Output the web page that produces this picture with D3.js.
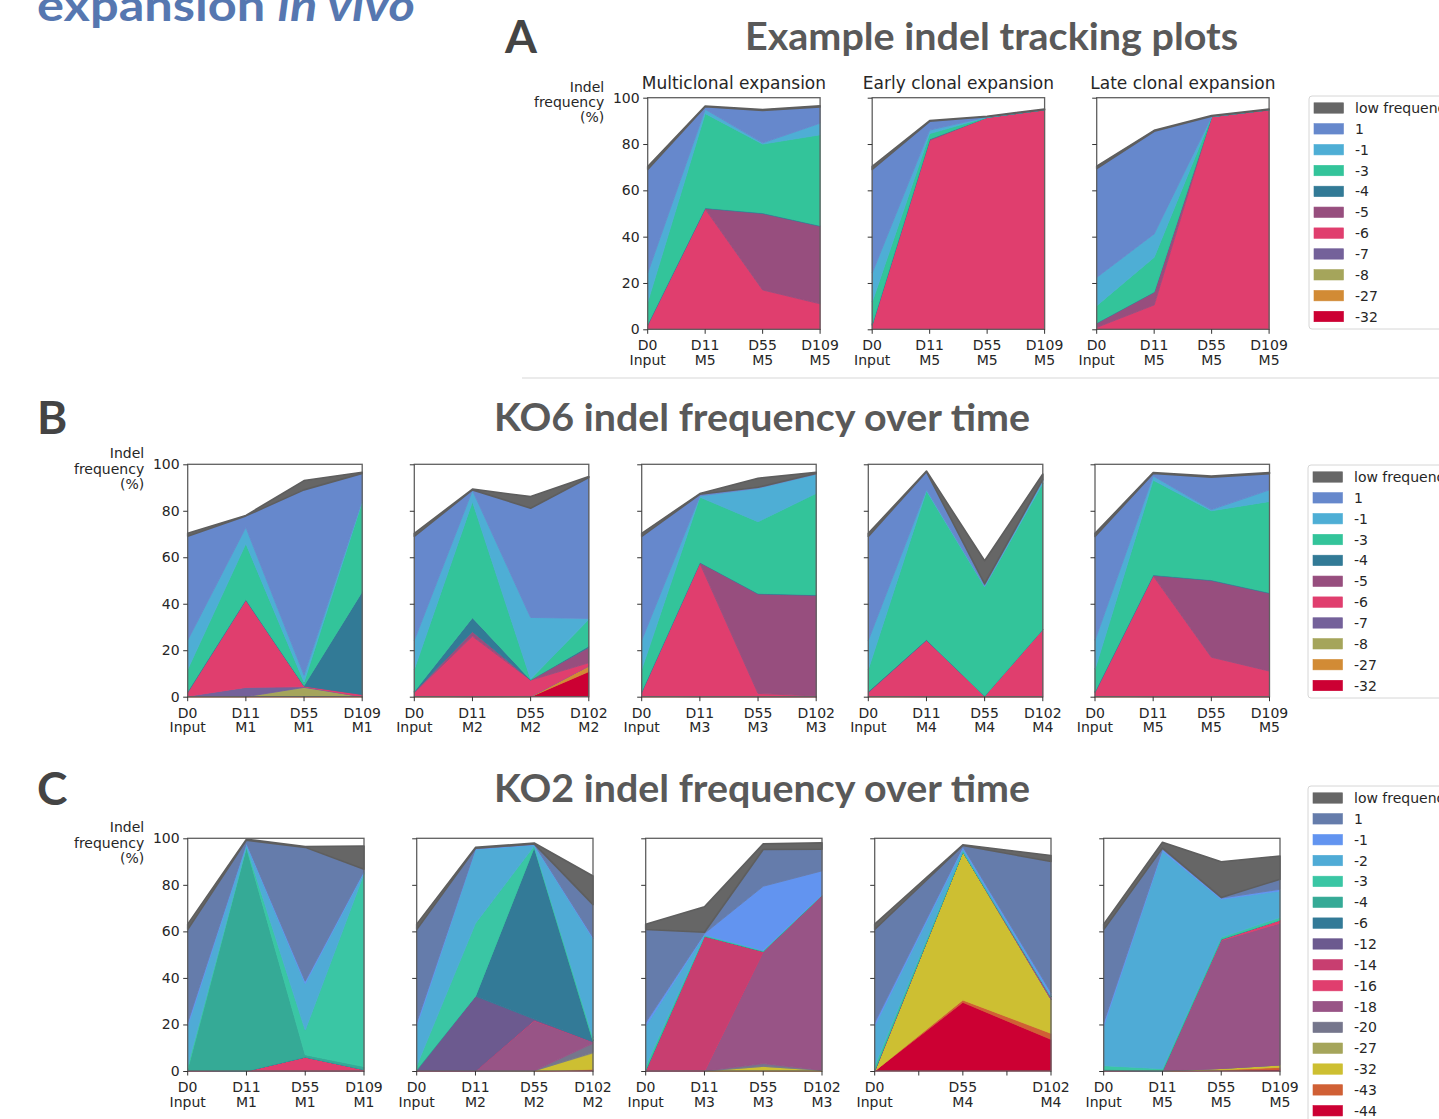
<!DOCTYPE html>
<html>
<head>
<meta charset="utf-8">
<script src="https://cdn.jsdelivr.net/npm/d3@7"></script>
<style>
  body { margin: 0; background: #fff; overflow: hidden; }
  svg { display: block; }
</style>
</head>
<body>
<svg id="fig" width="1439" height="1119"></svg>
<script>
// ---------- series (legend order, top of stack first) ----------
const ko6Keys = ["low frequency", "1", "-1", "-3", "-4", "-5", "-6", "-7", "-8", "-27", "-32"];
const ko6Colors = ["#666666", "#6688cc", "#4eaed5", "#33c49a", "#327a96", "#974e7e", "#e03e6e", "#74619a", "#a5a55b", "#d28b35", "#cc0033"];

const ko2Keys = ["low frequency", "1", "-1", "-2", "-3", "-4", "-6", "-12", "-14", "-16", "-18", "-20", "-27", "-32", "-43", "-44"];
const ko2Colors = ["#666666", "#657cab", "#6294f0", "#4fabd6", "#3ac6a4", "#35aa96", "#337a97", "#6c5a8f", "#c83e70", "#e03e6e", "#985486", "#75768c", "#a5a55b", "#cdbf32", "#d06035", "#cc0033"];

// ---------- time point labels ----------
const daysM1_109 = [["D0", "Input"], ["D11", "M1"], ["D55", "M1"], ["D109", "M1"]];
const daysM2_102 = [["D0", "Input"], ["D11", "M2"], ["D55", "M2"], ["D102", "M2"]];
const daysM3_102 = [["D0", "Input"], ["D11", "M3"], ["D55", "M3"], ["D102", "M3"]];
const daysM4_102 = [["D0", "Input"], ["D11", "M4"], ["D55", "M4"], ["D102", "M4"]];
const daysM5_109 = [["D0", "Input"], ["D11", "M5"], ["D55", "M5"], ["D109", "M5"]];
const daysM4_noD11 = [["D0", "Input"], ["D55", "M4"], ["D102", "M4"]];
const yTicks = [0, 20, 40, 60, 80, 100];

// ---------- indel frequencies (%) per time point ----------
// KO6, mouse M5 (multiclonal expansion)
const ko6M5 = {
  "low frequency": [1.3, 0.3, 0.4, 0.5],
  "1":  [44.7, 1.1, 14.0, 7.0],
  "-1": [12.5, 1.8, 0.5, 5.0],
  "-3": [9.5, 40.7, 29.7, 39.2],
  "-4": [0.3, 0.3, 0.3, 0.3],
  "-5": [0.3, 0.2, 33.0, 33.5],
  "-6": [1.5, 52.0, 17.0, 11.0],
  "-7": [0.2, 0, 0, 0]
};
// early clonal expansion
const earlyClonal = {
  "low frequency": [1.3, 0.3, 0.2, 0.3],
  "1":  [44.7, 3.8, 0.1, 0],
  "-1": [12.5, 1.5, 0.1, 0],
  "-3": [9.5, 2.3, 0.1, 0],
  "-4": [0.3, 0.2, 0, 0],
  "-5": [0.3, 0.5, 0, 0],
  "-6": [1.5, 81.5, 91.5, 94.8],
  "-7": [0.2, 0, 0, 0]
};
// late clonal expansion
const lateClonal = {
  "low frequency": [1.0, 0.4, 0.3, 0.3],
  "1":  [47.0, 44.3, 0.1, 0],
  "-1": [12.2, 10.1, 0, 0],
  "-3": [7.4, 14.9, 0.1, 0],
  "-4": [0.2, 0.2, 0, 0],
  "-5": [1.8, 5.5, 0, 0],
  "-6": [0.8, 10.5, 91.8, 94.8]
};
// KO6, mouse M1
const ko6M1 = {
  "low frequency": [1.3, 0.2, 4.0, 0.5],
  "1":  [44.7, 4.9, 79.7, 11.6],
  "-1": [12.5, 7.0, 3.0, 0.6],
  "-3": [9.5, 24.0, 1.5, 38.7],
  "-4": [0.3, 0.2, 0.2, 44.2],
  "-5": [0.3, 0.2, 0, 0],
  "-6": [1.5, 37.5, 0.3, 1.0],
  "-7": [0.2, 4.0, 0.3, 0],
  "-8": [0, 0, 4.0, 0]
};
// KO6, mouse M2
const ko6M2 = {
  "low frequency": [1.3, 0.3, 5.0, 0.4],
  "1":  [44.7, 0.2, 47.0, 60.6],
  "-1": [12.5, 4.8, 26.5, 0.4],
  "-3": [9.5, 50.0, 0.3, 11.5],
  "-4": [0.3, 6.0, 0.1, 0.6],
  "-5": [0.3, 2.0, 0.1, 6.6],
  "-6": [1.5, 26.0, 7.0, 1.4],
  "-7": [0.2, 0, 0.1, 0],
  "-27": [0, 0, 0, 2.4],
  "-32": [0, 0, 0, 10.8]
};
// KO6, mouse M3
const ko6M3 = {
  "low frequency": [1.3, 0.3, 3.9, 0.5],
  "1":  [44.7, 0.7, 0.4, 0.4],
  "-1": [12.5, 0.5, 14.4, 8.2],
  "-3": [9.5, 28.0, 30.8, 43.6],
  "-4": [0.3, 0.2, 0.3, 0.3],
  "-5": [0.3, 0.3, 42.8, 43.3],
  "-6": [1.5, 57.4, 1.4, 0.3],
  "-7": [0.2, 0, 0, 0]
};
// KO6, mouse M4
const ko6M4 = {
  "low frequency": [1.3, 0.3, 10.0, 2.3],
  "1":  [44.7, 7.6, 0.8, 0.5],
  "-1": [12.5, 0.6, 0.4, 1.2],
  "-3": [9.5, 64.0, 47.0, 62.8],
  "-4": [0.3, 0.2, 0, 0],
  "-5": [0.3, 0.2, 0, 0],
  "-6": [1.5, 24.2, 0.3, 29.0],
  "-7": [0.2, 0, 0, 0]
};
// KO2, mouse M1
const ko2M1 = {
  "low frequency": [2.3, 0.4, 0.4, 10.0],
  "1":  [40.0, 1.2, 57.5, 0.7],
  "-1": [1.5, 0.5, 1.0, 0.5],
  "-2": [17.0, 1.0, 20.0, 0.6],
  "-3": [1.5, 0.5, 10.6, 83.0],
  "-4": [0.5, 96.0, 1.0, 1.3],
  "-16": [0.3, 0, 6.0, 0.6]
};
// KO2, mouse M2
const ko2M2 = {
  "low frequency": [2.3, 0.4, 0.4, 12.3],
  "1":  [40.0, 0.2, 0.2, 14.0],
  "-1": [1.5, 0.2, 0.2, 0.6],
  "-2": [17.0, 31.8, 0.4, 42.5],
  "-3": [1.5, 31.3, 0.5, 1.2],
  "-4": [0.5, 0, 0.3, 0.3],
  "-6": [0, 0, 73.7, 0.3],
  "-12": [0, 32.2, 0.5, 0],
  "-16": [0.3, 0, 0.2, 0],
  "-18": [0, 0, 21.5, 0.7],
  "-20": [0, 0, 0, 4.0],
  "-27": [0, 0, 0, 0.3],
  "-32": [0, 0, 0.1, 6.8],
  "-43": [0, 0, 0, 0.4],
  "-44": [0, 0, 0, 0.4]
};
// KO2, mouse M3
const ko2M3 = {
  "low frequency": [2.3, 11.0, 2.4, 2.8],
  "1":  [40.0, 0.5, 15.8, 9.3],
  "-1": [1.5, 0.5, 27.5, 10.2],
  "-2": [17.0, 0.3, 0.2, 0],
  "-3": [1.5, 0.3, 0.2, 0.2],
  "-4": [0.5, 0, 0.1, 0],
  "-14": [0, 58.0, 0, 0],
  "-16": [0.3, 0, 0, 0],
  "-18": [0, 0, 48.2, 75.3],
  "-20": [0, 0, 1.2, 0],
  "-32": [0, 0, 2.0, 0.3]
};
// KO2, mouse M4 (no D11 sample)
const ko2M4 = {
  "low frequency": [2.3, 0.3, 2.6],
  "1":  [40.0, 0.5, 56.2],
  "-1": [1.5, 0.8, 1.2],
  "-2": [17.0, 0.8, 0.6],
  "-3": [1.5, 0.5, 0],
  "-4": [0.5, 0, 0],
  "-16": [0.3, 0, 0],
  "-18": [0, 0, 1.2],
  "-32": [0, 63.8, 14.6],
  "-43": [0, 1.0, 2.6],
  "-44": [0, 29.5, 13.6]
};
// KO2, mouse M5
const ko2M5 = {
  "low frequency": [2.3, 2.5, 15.3, 10.0],
  "1":  [40.0, 0.5, 0.3, 4.3],
  "-1": [1.5, 0.8, 0.5, 0.7],
  "-2": [17.0, 93.5, 16.3, 11.4],
  "-3": [1.5, 0.7, 0.7, 1.1],
  "-4": [0.5, 0.3, 0.2, 0],
  "-16": [0.3, 0, 0.5, 1.4],
  "-18": [0, 0, 55.0, 60.9],
  "-32": [0, 0, 0.6, 1.0],
  "-43": [0, 0, 0.3, 0.9],
  "-44": [0, 0, 0.2, 0.7]
};

// ---------- drawing ----------
const svg = d3.select("#fig");
const plotFont = "'DejaVu Sans', sans-serif";
const headFont = "Lato, 'Open Sans', sans-serif";
const textColor = "#262626";

function drawPlot(cfg) {
  const { left, top, width, height, keys, colors, values, days, tickPos, yLabels, title } = cfg;
  const n = days.length;
  const g = svg.append("g");
  const x = d3.scaleLinear().domain([0, n - 1]).range([left, left + width]);
  const y = d3.scaleLinear().domain([0, 100]).range([top + height, top]);
  const color = d3.scaleOrdinal().domain(keys).range(colors);

  // stack from the bottom series upward
  const stackKeys = keys.slice().reverse();
  const rows = d3.range(n).map(i => {
    const r = {};
    stackKeys.forEach(k => { r[k] = values[k] ? values[k][i] : 0; });
    return r;
  });
  const layers = d3.stack().keys(stackKeys)(rows);
  const area = d3.area()
    .x((d, i) => x(i))
    .y0(d => y(d[0]))
    .y1(d => y(d[1]));

  g.selectAll("path.layer")
    .data(layers)
    .join("path")
    .attr("class", "layer")
    .attr("d", area)
    .attr("fill", d => color(d.key))
    .attr("stroke", d => d.key === "low frequency" ? "#5e5e5e" : color(d.key))
    .attr("stroke-width", d => d.key === "low frequency" ? 1.6 : 0.9)
    .attr("stroke-linejoin", "round");

  // frame
  g.append("rect")
    .attr("x", left).attr("y", top)
    .attr("width", width).attr("height", height)
    .attr("fill", "none")
    .attr("stroke", "#606060")
    .attr("stroke-width", 1.3);

  // y axis
  const yAxis = d3.axisLeft(y).tickValues(yTicks).tickSize(4.5).tickPadding(3.5)
    .tickFormat(yLabels ? d3.format("d") : () => "");
  const ya = g.append("g").attr("transform", `translate(${left},0)`).call(yAxis);
  ya.select(".domain").remove();
  ya.selectAll(".tick line").attr("stroke", "#333").attr("stroke-width", 1);
  ya.selectAll("text").attr("font-family", plotFont).attr("font-size", 14).attr("fill", textColor);

  // x axis ticks and two-line labels
  const xa = g.append("g");
  xa.selectAll("line")
    .data(tickPos)
    .join("line")
    .attr("x1", d => x(d)).attr("x2", d => x(d))
    .attr("y1", top + height).attr("y2", top + height + 4.5)
    .attr("stroke", "#333").attr("stroke-width", 1);
  const lab = xa.selectAll("text")
    .data(days)
    .join("text")
    .attr("font-family", plotFont).attr("font-size", 14).attr("fill", textColor)
    .attr("text-anchor", "middle");
  lab.append("tspan").attr("x", (d, i) => x(i)).attr("y", top + height + 21).text(d => d[0]);
  lab.append("tspan").attr("x", (d, i) => x(i)).attr("y", top + height + 35.5).text(d => d[1]);

  if (yLabels) {
    const yl = g.append("text")
      .attr("font-family", plotFont).attr("font-size", 14).attr("fill", textColor)
      .attr("text-anchor", "end");
    ["Indel", "frequency", "(%)"].forEach((t, i) => {
      yl.append("tspan").attr("x", left - 43.5).attr("y", top - 6 + i * 15.2).text(t);
    });
  }
  if (title) {
    g.append("text")
      .attr("x", left + width / 2).attr("y", top - 8.5)
      .attr("text-anchor", "middle")
      .attr("font-family", plotFont).attr("font-size", 17).attr("fill", textColor)
      .text(title);
  }
}

function drawLegend(x0, y0, boxH, keys, colors) {
  const g = svg.append("g");
  g.append("rect")
    .attr("x", x0).attr("y", y0).attr("width", 200).attr("height", boxH)
    .attr("rx", 3).attr("fill", "#fff").attr("stroke", "#d6d6d6").attr("stroke-width", 1);
  const rows = g.selectAll("g.row").data(keys).join("g").attr("class", "row")
    .attr("transform", (d, i) => `translate(${x0 + 5},${y0 + 12 + i * 20.85})`);
  rows.append("rect")
    .attr("x", 0).attr("y", -5.2).attr("width", 29.5).attr("height", 10.4)
    .attr("fill", (d, i) => colors[i]).attr("stroke", (d, i) => colors[i]).attr("stroke-width", 0.6);
  rows.append("text")
    .attr("x", 41).attr("y", 5)
    .attr("font-family", plotFont).attr("font-size", 14).attr("fill", textColor)
    .text(d => d);
}

// heading fragment in the top-left corner
svg.append("text")
  .attr("x", 37).attr("y", 20.5)
  .attr("font-family", headFont).attr("font-weight", 700).attr("font-size", 44)
  .attr("fill", "#5677b0")
  .attr("textLength", 378).attr("lengthAdjust", "spacingAndGlyphs")
  .call(t => {
    t.append("tspan").text("expansion ");
    t.append("tspan").attr("font-style", "italic").text("in vivo");
  });

// panel letters and headings
const headings = [
  { letter: "A", lx: 505, ly: 53, text: "Example indel tracking plots", tx: 745, ty: 50, tw: 493 },
  { letter: "B", lx: 37, ly: 434, text: "KO6 indel frequency over time", tx: 494, ty: 431, tw: 536 },
  { letter: "C", lx: 37, ly: 805, text: "KO2 indel frequency over time", tx: 494, ty: 802, tw: 536 }
];
headings.forEach(h => {
  svg.append("text").attr("x", h.lx).attr("y", h.ly)
    .attr("font-family", headFont).attr("font-weight", 700).attr("font-size", 46)
    .attr("fill", "#444").text(h.letter);
  svg.append("text").attr("x", h.tx).attr("y", h.ty)
    .attr("font-family", headFont).attr("font-weight", 700).attr("font-size", 38)
    .attr("fill", "#595959")
    .attr("textLength", h.tw).attr("lengthAdjust", "spacingAndGlyphs")
    .text(h.text);
});

// divider under panel A
svg.append("line").attr("x1", 522).attr("x2", 1439).attr("y1", 378).attr("y2", 378)
  .attr("stroke", "#e4e4e4").attr("stroke-width", 1.5);

// ---------- panel A ----------
const aTop = 97.7, aH = 231.6, aW = 172.4;
drawPlot({ left: 647.7, top: aTop, width: aW, height: aH, keys: ko6Keys, colors: ko6Colors, values: ko6M5,
  days: daysM5_109, tickPos: [0, 1, 2, 3], yLabels: true, title: "Multiclonal expansion" });
drawPlot({ left: 872.2, top: aTop, width: aW, height: aH, keys: ko6Keys, colors: ko6Colors, values: earlyClonal,
  days: daysM5_109, tickPos: [0, 1, 2, 3], yLabels: false, title: "Early clonal expansion" });
drawPlot({ left: 1096.7, top: aTop, width: aW, height: aH, keys: ko6Keys, colors: ko6Colors, values: lateClonal,
  days: daysM5_109, tickPos: [0, 1, 2, 3], yLabels: false, title: "Late clonal expansion" });
drawLegend(1309, 96, 233, ko6Keys, ko6Colors);

// ---------- panel B (KO6) ----------
const bTop = 464.3, bH = 232.4, bW = 174.5;
const bPlots = [
  { left: 187.7, values: ko6M1, days: daysM1_109 },
  { left: 414.3, values: ko6M2, days: daysM2_102 },
  { left: 641.7, values: ko6M3, days: daysM3_102 },
  { left: 868.3, values: ko6M4, days: daysM4_102 },
  { left: 1095.0, values: ko6M5, days: daysM5_109 }
];
bPlots.forEach((p, i) => drawPlot({ left: p.left, top: bTop, width: bW, height: bH, keys: ko6Keys, colors: ko6Colors,
  values: p.values, days: p.days, tickPos: [0, 1, 2, 3], yLabels: i === 0 }));
drawLegend(1308, 465, 233, ko6Keys, ko6Colors);

// ---------- panel C (KO2) ----------
const cTop = 838.3, cH = 232.7, cW = 176.3;
const cPlots = [
  { left: 187.7, values: ko2M1, days: daysM1_109, ticks: [0, 1, 2, 3] },
  { left: 416.7, values: ko2M2, days: daysM2_102, ticks: [0, 1, 2, 3] },
  { left: 645.7, values: ko2M3, days: daysM3_102, ticks: [0, 1, 2, 3] },
  { left: 874.7, values: ko2M4, days: daysM4_noD11, ticks: [0, 0.5, 1, 1.5, 2] },
  { left: 1103.7, values: ko2M5, days: daysM5_109, ticks: [0, 1, 2, 3] }
];
cPlots.forEach((p, i) => drawPlot({ left: p.left, top: cTop, width: cW, height: cH, keys: ko2Keys, colors: ko2Colors,
  values: p.values, days: p.days, tickPos: p.ticks, yLabels: i === 0 }));
drawLegend(1308, 786, 360, ko2Keys, ko2Colors);
</script>
</body>
</html>
